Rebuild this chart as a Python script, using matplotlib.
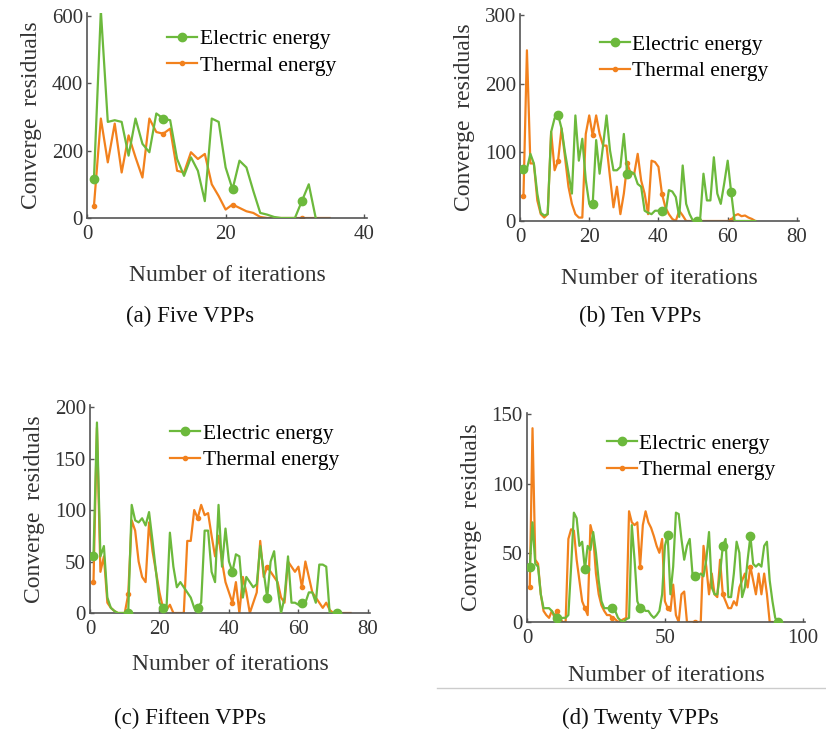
import numpy as np
import matplotlib.pyplot as plt
from matplotlib.lines import Line2D

plt.rcParams["font.family"] = ["Liberation Serif", "DejaVu Serif"]

GREEN = "#6cb93c"
ORANGE = "#f2811d"

# (a) Five VPPs
elec_a = [115, 615, 285, 290, 285, 185, 295, 220, 195, 310, 295, 290, 175, 125, 180,
          140, 50, 295, 285, 150, 85, 170, 150, 80, 15, 10, 3, 0, 0, 0, 50, 100, 0]
therm_a = [35, 295, 165, 280, 135, 245, 180, 120, 295, 255, 250, 265, 140, 135, 195,
           175, 190, 100, 65, 25, 40, 30, 20, 15, 3, 0, 0, 0, 0, 0, 0, 0, 0, 0, 0]

# (b) Ten VPPs
elec_b = [76, 76, 98, 84, 40, 12, 8, 10, 130, 150, 155, 135, 100, 70, 40, 154, 88, 120,
          60, 25, 25, 118, 69, 110, 154, 103, 74, 74, 79, 127, 69, 72, 69, 54, 50, 15,
          12, 10, 15, 15, 15, 10, 45, 43, 35, 6, 81, 25, 10, 0, 0, 0, 69, 30, 30, 93,
          40, 25, 55, 88, 42, 0, 0, 0, 0, 0, 0, 0]
therm_b = [37, 249, 84, 84, 30, 10, 5, 10, 130, 74, 88, 135, 93, 50, 25, 10, 5, 5,
           127, 154, 125, 154, 127, 110, 110, 64, 20, 50, 10, 40, 84, 69, 69, 98, 59, 40,
           10, 88, 86, 79, 40, 20, 10, 3, 0, 15, 8, 0, 0, 0, 0, 0, 0, 0, 0, 0, 0, 0, 0,
           0, 1, 8, 10, 7, 8, 5, 3, 0]

# (c) Fifteen VPPs
elec_c = [55, 185, 55, 65, 15, 5, 2, 0, 0, 0, 0, 105, 90, 88, 92, 85, 98, 70, 40, 10,
          5, 3, 78, 45, 25, 30, 25, 20, 15, 5, 5, 10, 80, 80, 40, 30, 105, 45, 82, 50,
          40, 57, 55, 15, 35, 30, 25, 28, 65, 40, 15, 50, 60, 25, 0, 15, 55, 10, 10, 8,
          10, 10, 20, 20, 10, 47, 47, 45, 0, 0, 0]
therm_c = [30, 180, 40, 55, 10, 5, 2, 0, 0, 0, 18, 90, 80, 50, 35, 30, 88, 60, 40, 20,
           5, 3, 8, 0, 0, 0, 0, 70, 70, 100, 92, 105, 95, 97, 75, 55, 75, 50, 30, 20,
           10, 30, 0, 35, 20, 0, 10, 20, 70, 35, 45, 40, 35, 30, 15, 10, 50, 45, 40, 45,
           25, 50, 35, 20, 15, 10, 5, 10, 3, 0, 0, 0, 0, 0, 0]

# (d) Twenty VPPs
elec_d = [40, 72, 42, 40, 20, 10, 10, 10, 8, 5, 3, 2, 3, 3, 5, 40, 79, 75, 55, 58,
          38, 55, 52, 65, 50, 30, 15, 10, 10, 10, 10, 8, 3, 1, 0, 2, 3, 70, 45, 15,
          10, 10, 8, 8, 5, 3, 5, 8, 20, 55, 63, 20, 40, 79, 78, 60, 45, 55, 60, 35,
          33, 33, 35, 33, 45, 65, 25, 20, 20, 35, 55, 60, 18, 18, 35, 58, 50, 18, 25, 45,
          62, 42, 40, 42, 40, 55, 58, 30, 15, 3, 0]
therm_d = [25, 140, 45, 42, 20, 8, 5, 3, 8, 3, 8, 2, 0, 0, 60, 67, 66, 45, 30, 15,
           10, 5, 70, 62, 35, 20, 12, 8, 5, 5, 3, 2, 0, 1, 2, 3, 80, 72, 70, 72,
           40, 70, 80, 72, 68, 62, 55, 50, 60, 15, 10, 8, 27, 5, 0, 20, 22, 0, 0, 0,
           0, 0, 0, 55, 40, 20, 35, 20, 18, 45, 20, 15, 10, 10, 15, 12, 25, 30, 35, 25,
           40, 30, 20, 35, 20, 35, 20, 0, 0]

panels = [
    (elec_a, therm_a, [0, 20, 40], [0, 200, 400, 600], 40.4, 608, "(a) Five VPPs",
     [87, 13, 367, 218], 0.92, 15),
    (elec_b, therm_b, [0, 20, 40, 60, 80], [0, 100, 200, 300], 80.6, 302, "(b) Ten VPPs",
     [520, 14, 799, 221], 0.90, 15),
    (elec_c, therm_c, [0, 20, 40, 60, 80], [0, 50, 100, 150, 200], 80.6, 202,
     "(c) Fifteen VPPs", [90, 405, 370, 613], 0.91, 11),
    (elec_d, therm_d, [0, 50, 100], [0, 50, 100, 150], 100.8, 151, "(d) Twenty VPPs",
     [527, 413, 805, 622], 0.90, 12),
]
caption_pos = [(190, 316), (640, 316), (190, 718), (640, 718)]

W, H = 826, 732
fig = plt.figure(figsize=(W / 100, H / 100), dpi=100)

for (elec, therm, xt, yt, xmax, ymax, cap, box, leg_y, xpad), (cx, cy) in zip(panels, caption_pos):
    l, t, r, b = box
    ax = fig.add_axes([l / W, 1 - b / H, (r - l) / W, (b - t) / H])
    xe = np.arange(1, len(elec) + 1)
    xth = np.arange(1, len(therm) + 1)
    ax.plot(xe, elec, color=GREEN, lw=1.6, marker="o", ms=6, markevery=10,
            label="Electric energy", zorder=3)
    ax.plot(xth, therm, color=ORANGE, lw=1.6, marker="o", ms=3, markevery=10,
            label="Thermal energy", zorder=2)
    ax.set_xlim(0, xmax)
    ax.set_ylim(0, ymax)
    ax.set_xticks(xt)
    ax.set_yticks(yt)
    for s in ["top", "right"]:
        ax.spines[s].set_visible(False)
    for s in ["left", "bottom"]:
        ax.spines[s].set_color("#555555")
        ax.spines[s].set_linewidth(1.2)
    ax.tick_params(direction="in", length=3, width=1, color="#555555",
                   labelsize=15, labelcolor="#333333")
    ax.tick_params(axis="x", pad=5)
    ax.tick_params(axis="y", pad=3)
    ax.set_xlabel("Number of iterations", fontsize=17, color="#333333", labelpad=xpad)
    ax.set_ylabel("Converge  residuals", fontsize=17, color="#333333", labelpad=7)
    ax.legend(loc="upper left", bbox_to_anchor=(0.287, leg_y), frameon=False,
              fontsize=15.5, handlelength=1.4, handletextpad=0.1,
              borderpad=0, borderaxespad=0, labelspacing=0.3)
    fig.text(cx / W, 1 - cy / H, cap, fontsize=16.5, ha="center", va="center",
             color="#111111")

fig.add_artist(Line2D([437 / W, 1], [1 - 688 / H, 1 - 688 / H], color="#cccccc", lw=1))

fig.savefig("out.png", dpi=100)
